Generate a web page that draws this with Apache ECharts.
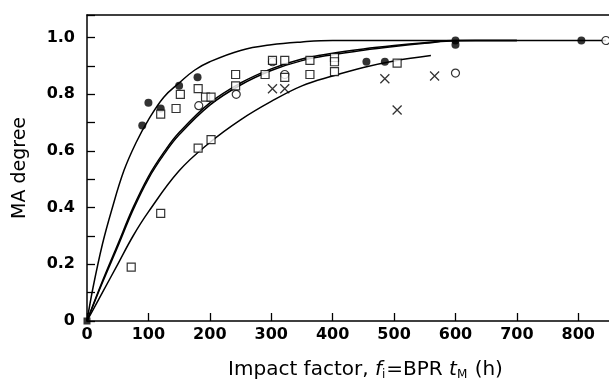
<!DOCTYPE html>
<html><head><meta charset="utf-8">
<script src="https://cdn.jsdelivr.net/npm/echarts@6/dist/echarts.min.js"></script>
<style>html,body{margin:0;padding:0;background:#fff}#c{width:609px;height:382px}</style>
</head><body><div id="c"></div>
<script>
// Fitted curves
var topCurveX = [0, 10, 25, 40, 60, 80, 100, 125, 150, 175, 200, 250, 300, 350, 400, 500, 600, 700];
var topCurveY = [0, 0.12, 0.27, 0.39, 0.53, 0.63, 0.71, 0.79, 0.84, 0.885, 0.915, 0.955, 0.975, 0.985, 0.99, 0.99, 0.99, 0.99];
var midCurveX = [0, 25, 50, 75, 100, 125, 150, 200, 250, 300, 350, 400, 450, 500, 550, 600, 700, 800, 845];
var midCurveAY = [0, 0.14, 0.27, 0.40, 0.51, 0.595, 0.665, 0.77, 0.84, 0.89, 0.925, 0.945, 0.96, 0.972, 0.982, 0.99, 0.99, 0.99, 0.99];
var midCurveBY = [0, 0.135, 0.262, 0.392, 0.502, 0.587, 0.657, 0.762, 0.833, 0.884, 0.919, 0.94, 0.956, 0.969, 0.98, 0.989, 0.99, 0.99, 0.99];
var lowCurveX = [0, 25, 50, 75, 100, 150, 200, 250, 300, 350, 400, 450, 500, 560];
var lowCurveY = [0, 0.10, 0.20, 0.30, 0.385, 0.53, 0.63, 0.71, 0.775, 0.83, 0.865, 0.895, 0.918, 0.937];
// Data points
var filledX = [90, 100, 120, 150, 180, 455, 485, 600, 600, 805];
var filledY = [0.69, 0.77, 0.75, 0.83, 0.86, 0.915, 0.915, 0.99, 0.975, 0.99];
var openX = [182, 243, 302, 322, 600, 845];
var openY = [0.76, 0.80, 0.915, 0.87, 0.875, 0.99];
var squareX = [72, 120, 120, 145, 152, 181, 181, 193, 202, 202, 242, 242, 290, 302, 322, 322, 363, 363, 403, 403, 403, 505];
var squareY = [0.19, 0.38, 0.73, 0.75, 0.80, 0.82, 0.61, 0.79, 0.79, 0.64, 0.87, 0.83, 0.87, 0.92, 0.92, 0.86, 0.92, 0.87, 0.93, 0.915, 0.88, 0.91];
var crossX = [302, 322, 485, 505, 566];
var crossY = [0.82, 0.82, 0.855, 0.745, 0.865];
var originX = [0], originY = [0];
var xTicks = [0, 100, 200, 300, 400, 500, 600, 700, 800];

function pairs(xs, ys) { return xs.map(function (x, i) { return [x, ys[i]]; }); }
var FONT = 'DejaVu Sans';
var lineStyle = { color: '#000', width: 1.5 };
function curve(xs, ys) {
  return { type: 'line', data: pairs(xs, ys), smooth: 0.4, showSymbol: false, lineStyle: lineStyle, silent: true, z: 2 };
}
function scatter(xs, ys, symbol, size, item) {
  return { type: 'scatter', data: pairs(xs, ys), symbol: symbol, symbolSize: size, itemStyle: item, z: 5, silent: true };
}

var chart = echarts.init(document.getElementById('c'), null, { renderer: 'canvas' });
chart.setOption({
  animation: false,
  backgroundColor: '#fff',
  grid: { left: 87, right: 0, top: 15, bottom: 61, show: false, containLabel: false, outerBoundsMode: 'none' },
  xAxis: [{
    type: 'value', min: 0, max: 850, interval: 100,
    axisLine: { show: true, lineStyle: { color: '#000', width: 1.5 } },
    axisTick: { show: true, inside: true, length: 8, lineStyle: { color: '#000', width: 1.3 } },
    splitLine: { show: false },
    axisLabel: { margin: 6, color: '#000', fontFamily: FONT, fontSize: 16, fontWeight: 'bold', showMaxLabel: false,
      formatter: function (v) { return xTicks.indexOf(v) >= 0 ? String(v) : ''; } },
    name: '{n|Impact factor, }{i|f}{s|i}{n|=BPR }{i|t}{s|M}{n| (h)}',
    nameLocation: 'middle', nameGap: 38,
    nameTextStyle: { padding: [0, 0, 0, 35],
      rich: {
        n: { fontFamily: FONT, fontSize: 20, color: '#000' },
        i: { fontFamily: FONT, fontSize: 20, color: '#000', fontStyle: 'italic' },
        s: { fontFamily: FONT, fontSize: 12, color: '#000', padding: [10, 1, 0, 0] }
      } }
  }, {
    type: 'value', position: 'top', min: 0, max: 850,
    axisLine: { show: true, lineStyle: { color: '#000', width: 1.5 } },
    axisTick: { show: false }, axisLabel: { show: false }, splitLine: { show: false }
  }],
  yAxis: {
    type: 'value', min: 0, max: 1.08, interval: 0.1,
    axisLine: { show: true, lineStyle: { color: '#000', width: 1.5 } },
    axisTick: { show: true, inside: true, length: 8, lineStyle: { color: '#000', width: 1.3 } },
    splitLine: { show: false },
    axisLabel: { margin: 12, color: '#000', fontFamily: FONT, fontSize: 16, fontWeight: 'bold',
      formatter: function (v) {
        var k = Math.round(v * 10);
        if (k % 2 !== 0 || k > 10) return '';
        return k === 0 ? '0' : (k / 10).toFixed(1);
      } },
    name: 'MA degree', nameLocation: 'middle', nameGap: 57, nameRotate: 90,
    nameTextStyle: { fontFamily: FONT, fontSize: 19, color: '#000' }
  },
  series: [
    curve(topCurveX, topCurveY),
    curve(midCurveX, midCurveAY),
    curve(midCurveX.slice(0, 17), midCurveBY.slice(0, 17)),
    curve(lowCurveX, lowCurveY),
    scatter(filledX, filledY, 'circle', 8, { color: '#000' }),
    scatter(originX, originY, 'rect', 7, { color: '#000' }),
    scatter(openX, openY, 'circle', 8, { color: '#fff', borderColor: '#000', borderWidth: 1.2 }),
    scatter(squareX, squareY, 'rect', 8, { color: '#fff', borderColor: '#000', borderWidth: 1.2 }),
    scatter(crossX, crossY, 'path://M0,0L10,10M10,0L0,10', 9, { color: 'none', borderColor: '#000', borderWidth: 1.3 })
  ]
});
</script></body></html>
